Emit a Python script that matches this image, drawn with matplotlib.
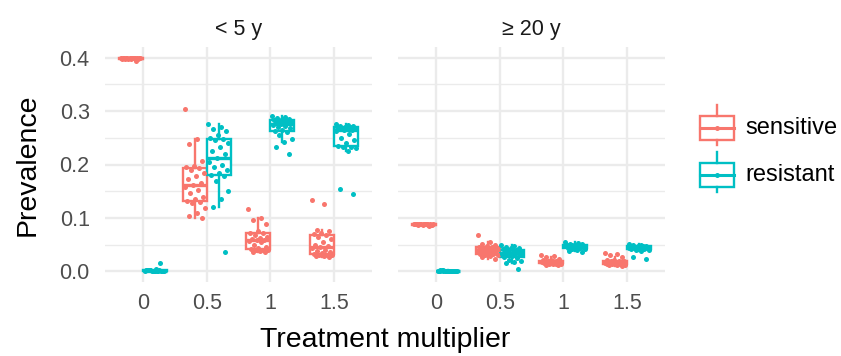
import numpy as np
import matplotlib
matplotlib.use("Agg")
from matplotlib import pyplot as plt
from matplotlib.patches import Rectangle

plt.rcParams['font.family'] = ['Liberation Sans', 'DejaVu Sans']

multipliers = ['0', '0.5', '1', '1.5']
panels = ['< 5 y', '\u2265 20 y']
strains = ['sensitive', 'resistant']
colours = {'sensitive': '#F8766D', 'resistant': '#00BFC4'}

# prevalence per simulation run, one list per treatment multiplier
under5_sensitive = [
    [0.400, 0.399, 0.400, 0.398, 0.399, 0.400, 0.399, 0.398, 0.400, 0.399,
     0.397, 0.400, 0.399, 0.398, 0.400, 0.399, 0.400, 0.398, 0.399, 0.394],
    [0.303, 0.247, 0.238, 0.207, 0.198, 0.196, 0.194, 0.190, 0.185, 0.178,
     0.172, 0.165, 0.161, 0.158, 0.152, 0.146, 0.140, 0.135, 0.132, 0.130,
     0.128, 0.118, 0.110, 0.104, 0.100],
    [0.116, 0.100, 0.096, 0.088, 0.075, 0.072, 0.071, 0.068, 0.065, 0.063,
     0.060, 0.058, 0.058, 0.056, 0.055, 0.050, 0.046, 0.043, 0.041, 0.040,
     0.040, 0.039, 0.038, 0.037, 0.036],
    [0.133, 0.126, 0.078, 0.075, 0.072, 0.070, 0.068, 0.065, 0.060, 0.055,
     0.050, 0.047, 0.045, 0.043, 0.040, 0.038, 0.036, 0.034, 0.032, 0.031,
     0.030, 0.030, 0.029, 0.028, 0.027],
]
under5_resistant = [
    [0.000, 0.001, 0.002, 0.000, 0.001, 0.003, 0.002, 0.000, 0.001, 0.004,
     0.002, 0.001, 0.000, 0.002, 0.001, 0.003, 0.000, 0.001, 0.002, 0.016],
    [0.275, 0.270, 0.266, 0.262, 0.255, 0.250, 0.248, 0.245, 0.240, 0.232,
     0.225, 0.220, 0.213, 0.205, 0.200, 0.195, 0.190, 0.185, 0.181, 0.178,
     0.170, 0.150, 0.135, 0.120, 0.037],
    [0.291, 0.289, 0.288, 0.286, 0.285, 0.284, 0.283, 0.282, 0.280, 0.279,
     0.278, 0.277, 0.276, 0.274, 0.272, 0.270, 0.268, 0.265, 0.263, 0.260,
     0.255, 0.248, 0.243, 0.233, 0.220],
    [0.276, 0.274, 0.273, 0.272, 0.271, 0.270, 0.270, 0.269, 0.268, 0.267,
     0.266, 0.265, 0.264, 0.262, 0.258, 0.250, 0.245, 0.240, 0.235, 0.233,
     0.232, 0.230, 0.226, 0.155, 0.145],
]
over20_sensitive = [
    [0.089, 0.088, 0.088, 0.087, 0.089, 0.088, 0.087, 0.088, 0.089, 0.088,
     0.086, 0.088, 0.087, 0.089, 0.088, 0.088, 0.087, 0.088, 0.089, 0.085],
    [0.068, 0.055, 0.052, 0.050, 0.048, 0.046, 0.045, 0.044, 0.043, 0.042,
     0.041, 0.040, 0.039, 0.038, 0.037, 0.036, 0.035, 0.034, 0.033, 0.032,
     0.031, 0.030, 0.028, 0.026, 0.023],
    [0.030, 0.028, 0.027, 0.024, 0.022, 0.021, 0.020, 0.020, 0.019, 0.019,
     0.018, 0.018, 0.018, 0.017, 0.017, 0.016, 0.016, 0.015, 0.015, 0.014,
     0.014, 0.013, 0.013, 0.012, 0.012],
    [0.034, 0.032, 0.030, 0.026, 0.022, 0.021, 0.020, 0.019, 0.019, 0.018,
     0.018, 0.017, 0.017, 0.016, 0.016, 0.015, 0.015, 0.014, 0.014, 0.013,
     0.013, 0.012, 0.012, 0.011, 0.010],
]
over20_resistant = [
    [0.001, 0.000, 0.001, 0.000, 0.001, 0.002, 0.000, 0.001, 0.000, 0.001,
     0.002, 0.000, 0.001, 0.000, 0.001, 0.002, 0.000, 0.001, 0.000, 0.001],
    [0.050, 0.048, 0.046, 0.044, 0.043, 0.042, 0.040, 0.039, 0.038, 0.037,
     0.036, 0.035, 0.034, 0.033, 0.032, 0.031, 0.030, 0.029, 0.027, 0.025,
     0.022, 0.020, 0.018, 0.015, 0.005],
    [0.054, 0.053, 0.052, 0.051, 0.050, 0.050, 0.049, 0.049, 0.048, 0.048,
     0.048, 0.047, 0.047, 0.047, 0.046, 0.046, 0.045, 0.045, 0.044, 0.043,
     0.042, 0.041, 0.040, 0.038, 0.036],
    [0.052, 0.050, 0.049, 0.048, 0.048, 0.047, 0.047, 0.046, 0.046, 0.045,
     0.045, 0.045, 0.044, 0.044, 0.044, 0.043, 0.043, 0.042, 0.042, 0.041,
     0.040, 0.039, 0.038, 0.026, 0.024],
]

panel_data = [
    {'sensitive': under5_sensitive, 'resistant': under5_resistant},
    {'sensitive': over20_sensitive, 'resistant': over20_resistant},
]

W, H = 841, 356
fig = plt.figure(figsize=(W / 100, H / 100), dpi=100)

grid_col = '#EBEBEB'
text_col = '#4D4D4D'
dodge = 0.1875
box_w = 0.375
jit = 0.16
lw = 1.7

panel_left = [105, 398]
panel_w = 267
panel_top, panel_bot = 47, 282

axes = []
for p, (title, data) in enumerate(zip(panels, panel_data)):
    ax = fig.add_axes([panel_left[p] / W, 1 - panel_bot / H,
                       panel_w / W, (panel_bot - panel_top) / H])
    axes.append(ax)
    ax.set_xlim(0.4, 4.6)
    ax.set_ylim(-0.02, 0.42)
    for s in ax.spines.values():
        s.set_visible(False)
    ax.set_axisbelow(True)
    ax.set_yticks([0, 0.1, 0.2, 0.3, 0.4])
    ax.set_yticks([0.05, 0.15, 0.25, 0.35], minor=True)
    ax.set_xticks(range(1, 5))
    ax.set_xticklabels(multipliers)
    ax.grid(True, which='major', color=grid_col, linewidth=1.7)
    ax.grid(True, which='minor', axis='y', color=grid_col, linewidth=1.0)
    ax.tick_params(which='both', length=0, labelsize=15.5, labelcolor=text_col)
    ax.tick_params(axis='x', pad=8)
    ax.tick_params(axis='y', pad=11)
    if p == 0:
        ax.set_yticklabels(['0.0', '0.1', '0.2', '0.3', '0.4'])
    else:
        ax.set_yticklabels([])
    ax.set_title(title, fontsize=15.5, color='#1A1A1A', pad=9)

    for k, strain in enumerate(strains):
        col = colours[strain]
        off = -dodge if k == 0 else dodge
        for i, vals in enumerate(data[strain]):
            pos = i + 1 + off
            ax.boxplot([vals], positions=[pos], widths=box_w, showfliers=False,
                       patch_artist=True, manage_ticks=False,
                       boxprops=dict(facecolor='white', edgecolor=col, linewidth=lw),
                       medianprops=dict(color=col, linewidth=2.4),
                       whiskerprops=dict(color=col, linewidth=lw),
                       capprops=dict(linewidth=0), zorder=2)
            n = len(vals)
            spread = ((np.arange(n) * 0.618034) % 1.0 - 0.5) * 2 * jit
            ax.scatter(pos + spread, vals, s=13, color=col, linewidths=0, zorder=3)

fig.text(385 / W, 1 - 340 / H, 'Treatment multiplier', ha='center', va='center',
         fontsize=20.5)
fig.text(28 / W, 1 - 165 / H, 'Prevalence', ha='center', va='center',
         rotation=90, fontsize=20.5)

# legend keys drawn in pixel coordinates
leg = fig.add_axes([0, 0, 1, 1])
leg.set_xlim(0, W)
leg.set_ylim(H, 0)
leg.axis('off')
for strain, yc in zip(strains, [128, 175]):
    col = colours[strain]
    leg.add_patch(Rectangle((700, yc - 12), 34, 24, facecolor='white',
                            edgecolor=col, linewidth=lw))
    leg.plot([717, 717], [yc - 23, yc - 12], color=col, linewidth=lw)
    leg.plot([717, 717], [yc + 12, yc + 17], color=col, linewidth=lw)
    leg.plot([700, 734], [yc, yc], color=col, linewidth=2.2)
    leg.scatter([717], [yc], s=13, color=col, linewidths=0)
    leg.text(745, yc, strain, ha='left', va='center', fontsize=17)

fig.savefig('out.png', dpi=100)
